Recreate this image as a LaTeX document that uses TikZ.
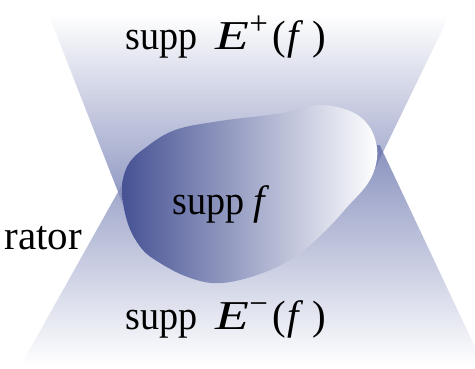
\documentclass[tikz,border=0pt]{standalone}
\usepackage{fontspec}
\setmainfont{Liberation Serif}
\newcommand{\lblfont}{\fontsize{41}{46}\selectfont}
\newcommand{\squeeze}[1]{\scalebox{0.93}[1]{#1}}
\newcommand{\supsign}[1]{\raisebox{0.36em}{\fontsize{33}{33}\selectfont #1}}
\newcommand{\suppE}[1]{\squeeze{supp}\hspace{0.45em}\scalebox{1.35}[1]{\textit{E}}\supsign{#1}\hspace{0.1em}(\hspace{0.03em}\textit{f}\hspace{0.22em})}
\begin{document}
\begin{tikzpicture}[x=1pt,y=-1pt]
\definecolor{conecol}{RGB}{92,104,166}
\definecolor{blobcol}{RGB}{70,82,148}
\tikzset{
  lbl/.style={font=\lblfont, inner sep=0pt, anchor=base west},
  cone/.style={fill opacity=0.72}
}
\useasboundingbox (0,0) rectangle (475,368);
% upper cone (future)
\shade[cone, top color=white, bottom color=conecol]
  (48.4,14) -- (450,14) -- (371.9,175) -- (125.9,212) -- cycle;
% lower cone (past)
\shade[cone, top color=conecol, bottom color=white]
  (124.7,180) -- (379.7,145) -- (484,366) -- (20.4,366) -- cycle;
% support of f
\shade[left color=blobcol, right color=white, shading angle=90]
  plot[smooth cycle, tension=0.6] coordinates {
    (122,190) (128,165) (145,148) (175,130) (220,121) (283,113) (318,105)
    (350,111) (369,126) (377,148) (375,168) (366,186) (348,206) (330,226)
    (303,251) (275,268) (240,280) (212,283) (185,276) (160,263) (142,249)
    (128,224)};
\node[lbl] (eplus) at (125,49) {\suppE{+}};
\node[lbl] (suppf) at (172,214) {\squeeze{supp}\hspace{0.22em}\textit{f}};
\node[lbl] (eminus) at (125,329) {\suppE{−}};
\node[lbl, anchor=base east] (rator) at (82,249) {rator};
\end{tikzpicture}
\end{document}
